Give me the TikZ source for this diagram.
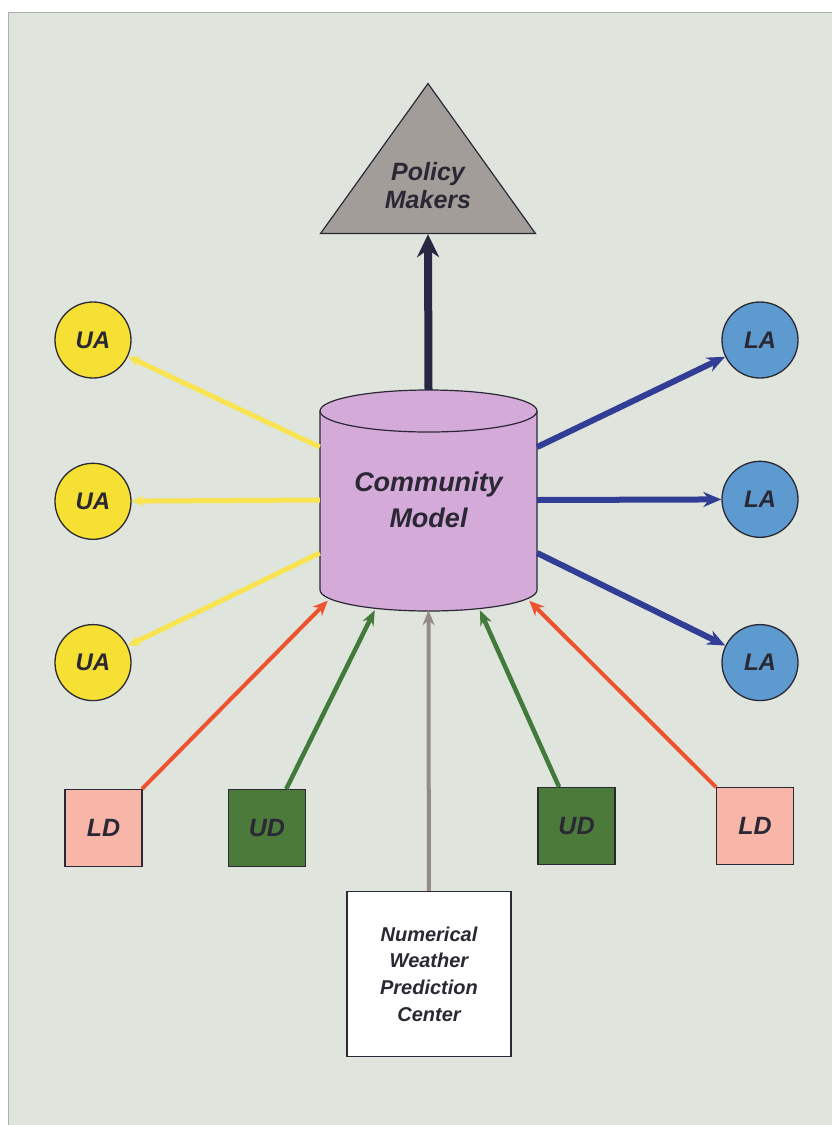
\documentclass[tikz,border=0pt]{standalone}
\usepackage{fontspec}
\newfontfamily\hvfont{Liberation Sans}
\usetikzlibrary{positioning,shapes.geometric,arrows.meta}

\definecolor{panel}{RGB}{223,228,221}
\definecolor{panelEdge}{RGB}{175,178,172}
\definecolor{ink}{RGB}{42,40,52}
\definecolor{triGray}{RGB}{163,157,153}
\definecolor{darkNavy}{RGB}{40,38,66}
\definecolor{lavender}{RGB}{212,170,216}
\definecolor{uaYellow}{RGB}{247,224,52}
\definecolor{arrYellow}{RGB}{248,228,80}
\definecolor{laBlue}{RGB}{92,154,208}
\definecolor{arrBlue}{RGB}{50,62,150}
\definecolor{ldPink}{RGB}{247,182,168}
\definecolor{arrRed}{RGB}{238,82,46}
\definecolor{udGreen}{RGB}{76,122,58}
\definecolor{arrGreen}{RGB}{66,122,60}
\definecolor{arrGray}{RGB}{150,138,134}

\begin{document}
\begin{tikzpicture}[x=1pt, y=-1pt,
    label/.style={font=\hvfont\bfseries\itshape, text=ink, align=center},
    policy/.style={isosceles triangle, isosceles triangle stretches, shape border rotate=90, draw=ink, line width=1.2pt, fill=triGray, minimum width=215pt, minimum height=150pt, inner sep=0pt},
    model/.style={label, rectangle, minimum width=217pt, minimum height=220pt, inner sep=0pt, font=\hvfont\bfseries\itshape\fontsize{27}{36}\selectfont},
    user/.style={label, circle, draw=ink, line width=1.3pt, fill=uaYellow, minimum size=76pt, inner sep=0pt, font=\hvfont\bfseries\itshape\fontsize{24}{26}\selectfont},
    local/.style={user, fill=laBlue},
    ldbox/.style={label, rectangle, draw=ink, line width=1.1pt, fill=ldPink, minimum size=77pt, inner sep=0pt, font=\hvfont\bfseries\itshape\fontsize{25}{26}\selectfont},
    udbox/.style={ldbox, fill=udGreen},
    center/.style={label, rectangle, draw=ink, line width=1.1pt, fill=white, minimum width=164pt, minimum height=165pt, inner sep=0pt, font=\hvfont\bfseries\itshape\fontsize{20}{26.7}\selectfont}]

% Background panel
\useasboundingbox (0,0) rectangle (832,1125);
\fill[panel] (8,12) rectangle (832,1125);
\draw[panelEdge, line width=1pt] (8,1125) -- (8,12) -- (832,12);

% Community model cylinder
\draw[ink, line width=1.2pt, fill=lavender] (320,411) -- (320,590)
  arc[start angle=180, end angle=0, x radius=108.5, y radius=21] -- (537,411)
  arc[start angle=0, end angle=-180, x radius=108.5, y radius=21] -- cycle;
\draw[ink, line width=1.2pt] (320,411) arc[start angle=180, end angle=0, x radius=108.5, y radius=21];
\node[model] (cm) at (428.5,500) {Community\\Model};

% Policy makers
\node[policy, anchor=apex] (pm) at (428,82) {};
\node[label, font=\hvfont\bfseries\itshape\fontsize{25}{28}\selectfont] (pmlabel) at (428,186) {Policy\\Makers};

% Users and local agencies
\node[user] (ua1) at (93,340) {UA};
\node[user, below=84pt of ua1] (ua2) {UA};
\node[user, below=84pt of ua2] (ua3) {UA};
\node[local] (la1) at (760,340) {LA};
\node[local, below=82pt of la1] (la2) {LA};
\node[local, below=86pt of la2] (la3) {LA};

% Data providers
\node[ldbox] (ld1) at (103.5,828) {LD};
\node[udbox] (ud1) at (267,828) {UD};
\node[udbox] (ud2) at (576.5,826) {UD};
\node[ldbox] (ld2) at (755,826) {LD};
\node[center] (nwp) at (429,974) {Numerical\\Weather\\Prediction\\Center};

% Connections
\draw[darkNavy, line width=8pt, -{Stealth[length=23pt, width=22pt]}] (cm.90) -- (pm.270);
\draw[arrYellow, line width=5pt, -{Stealth[length=12pt, width=11pt]}] (cm.154) -- (ua1);
\draw[arrYellow, line width=5pt, -{Stealth[length=12pt, width=11pt]}] (cm.180) -- (ua2);
\draw[arrYellow, line width=5pt, -{Stealth[length=12pt, width=11pt]}] (cm.206) -- (ua3);
\draw[arrBlue, line width=6pt, -{Stealth[length=18pt, width=15pt]}] (cm.26) -- (la1);
\draw[arrBlue, line width=6pt, -{Stealth[length=18pt, width=15pt]}] (cm.0) -- (la2);
\draw[arrBlue, line width=6pt, -{Stealth[length=18pt, width=15pt]}] (cm.-26) -- (la3);
\draw[arrRed, line width=4pt, -{Stealth[length=15pt, width=13pt]}] (ld1) -- ([xshift=8pt, yshift=8pt]cm.225);
\draw[arrGreen, line width=4.5pt, -{Stealth[length=15pt, width=12pt]}] (ud1) -- (cm.244);
\draw[arrGray, line width=4pt, -{Stealth[length=15pt, width=12pt]}] (nwp) -- (cm.270);
\draw[arrGreen, line width=4.5pt, -{Stealth[length=15pt, width=12pt]}] (ud2) -- (cm.295);
\draw[arrRed, line width=4pt, -{Stealth[length=15pt, width=13pt]}] (ld2) -- ([xshift=-8pt, yshift=8pt]cm.315);

\end{tikzpicture}
\end{document}
